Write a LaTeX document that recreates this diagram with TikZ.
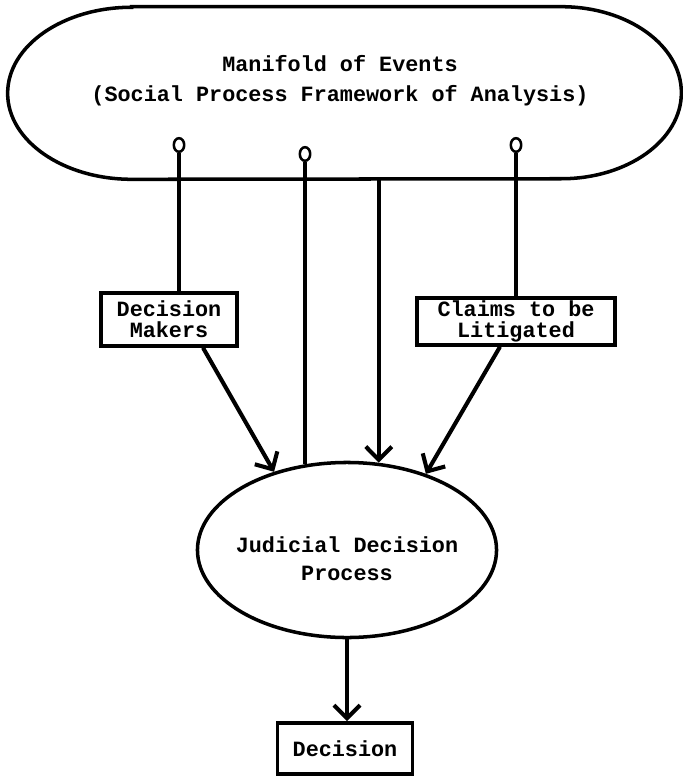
\documentclass[tikz,border=0pt]{standalone}
\usepackage{fontspec}
\setmonofont{Liberation Mono}
\usetikzlibrary{shapes.geometric,arrows.meta}

\newcommand{\typed}{\ttfamily\bfseries\fontsize{15.5}{14.9}\selectfont}
\tikzstyle{block} = [draw, rectangle, text centered, align=center, line width=2.5pt, inner sep=0pt, font=\typed]
\tikzstyle{round} = [draw, ellipse, line width=2.5pt, inner sep=0pt]
\tikzstyle{words} = [align=center, inner sep=0pt, font=\typed]
\tikzstyle{outline} = [draw, line width=2.5pt]
\tikzstyle{tap} = [draw, ellipse, line width=1.8pt, inner sep=0pt, minimum width=0.26cm, minimum height=0.34cm]
\tikzstyle{wire} = [draw, line width=2.6pt]
\tikzstyle{arrow} = [draw, line width=2.9pt, -{Straight Barb[length=0.33cm, width=0.65cm]}]

\begin{document}
\begin{tikzpicture}[x=0.025cm, y=0.025cm]
	\useasboundingbox (0,0) rectangle (683,-776);

	\node [minimum width=16.825cm, minimum height=4.3cm] (events) at (344.5,-93) {};
	\draw [outline] ([xshift=3.1cm] events.north west) -- ([xshift=-3cm] events.north east)
		arc [start angle=90, end angle=-90, x radius=3cm, y radius=2.15cm]
		-- ([xshift=3.1cm] events.south west)
		arc [start angle=270, end angle=90, x radius=3.1cm, y radius=2.15cm] -- cycle;
	\node [words] (eventstext) at (340,-81) {Manifold of Events\\[6.4pt](Social Process Framework of Analysis)};

	\node [tap] (tapA) at (179,-145) {};
	\node [tap] (tapB) at (305,-154) {};
	\node [tap] (tapC) at (516,-145) {};

	\node [block, minimum width=3.4cm, minimum height=1.325cm] (makers) at (169,-319.5) {Decision\\Makers};
	\node [block, minimum width=4.95cm, minimum height=1.175cm] (claims) at (516,-321.5) {Claims to be\\Litigated};
	\node [round, minimum width=7.475cm, minimum height=4.375cm] (judicial) at (347,-550) {};
	\node [words] (judicialtext) at (347,-559) {Judicial Decision\\[5pt]Process};
	\node [block, minimum width=3.375cm, minimum height=1.275cm] (decision) at (345,-748.5) {Decision};

	% Manifold
	\draw [wire] (tapA.south) -- (tapA.south |- makers.north);
	\draw [wire] (tapB.south) -- (tapB.south |- judicial.116);
	\draw [wire] (tapC.south) -- (tapC.south |- claims.north);
	\draw [arrow] (judicial.70 |- events.south) -- (judicial.70);

	% Judicial decision
	\draw [arrow] ([xshift=0.85cm] makers.south) -- (judicial.133);
	\draw [arrow] ([xshift=-0.4cm] claims.south) -- (judicial.44);
	\draw [arrow] (judicial.south) -- (judicial.south |- decision.north);
\end{tikzpicture}
\end{document}
